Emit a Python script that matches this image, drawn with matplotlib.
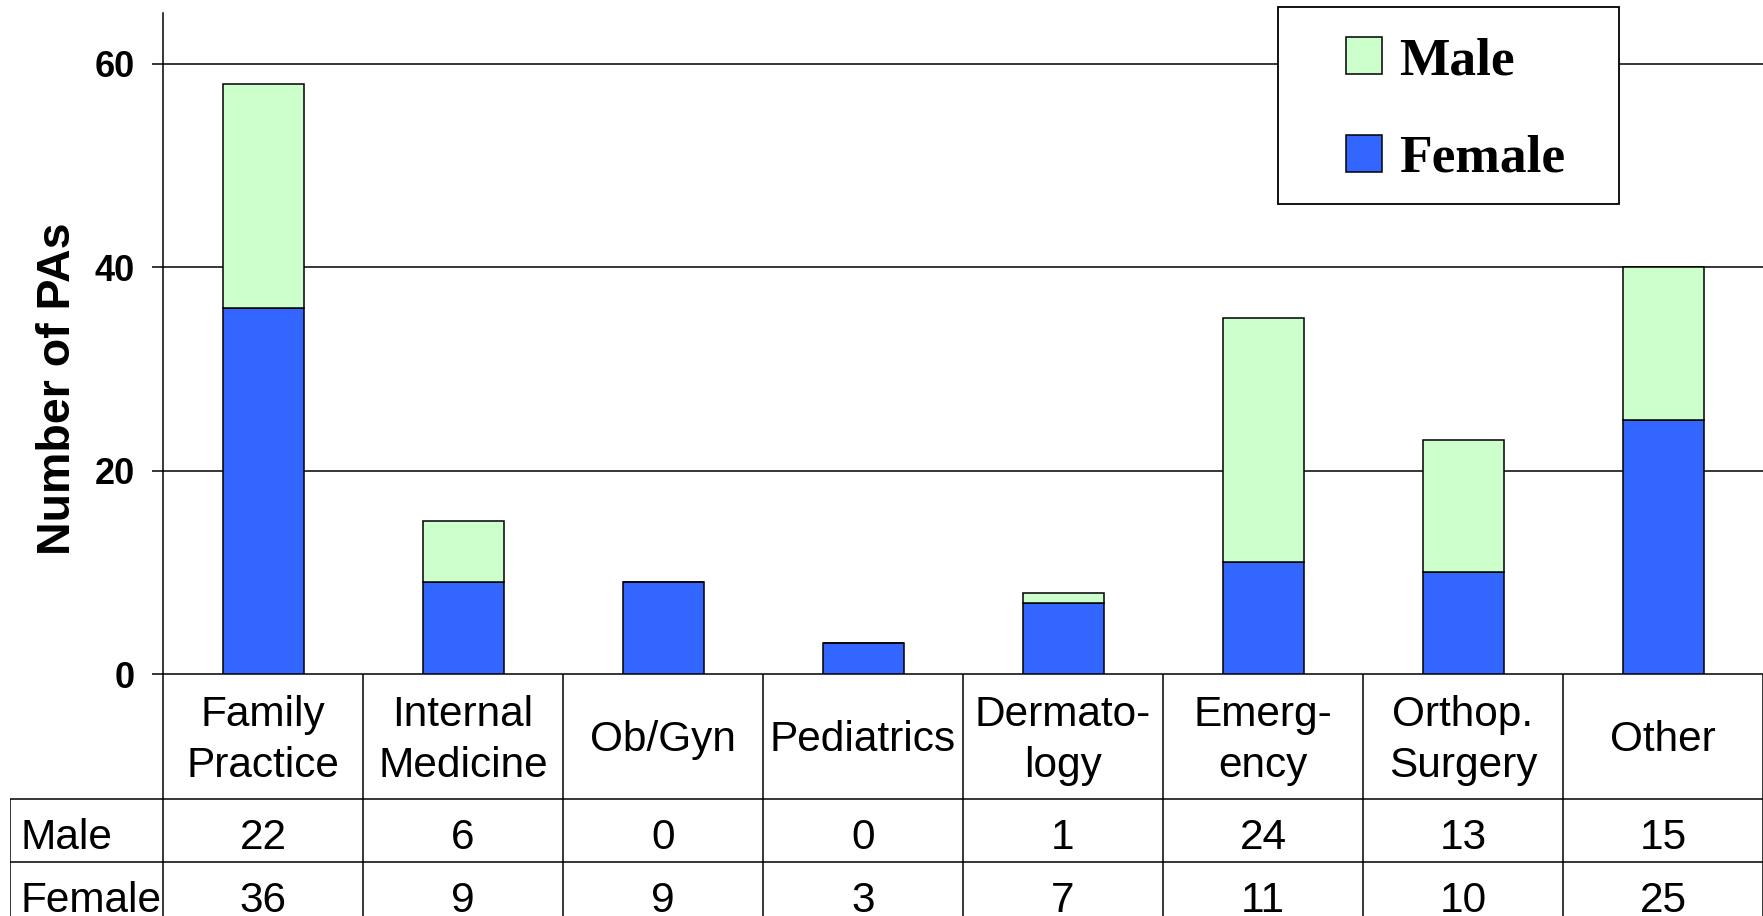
import matplotlib.pyplot as plt
from matplotlib.patches import Rectangle, Patch

categories = ['Family\nPractice', 'Internal\nMedicine', 'Ob/Gyn', 'Pediatrics',
              'Dermato-\nlogy', 'Emerg-\nency', 'Orthop.\nSurgery', 'Other']
male = [22, 6, 0, 0, 1, 24, 13, 15]
female = [36, 9, 9, 3, 7, 11, 10, 25]
row_labels = ['Male', 'Female']
yticks = [0, 20, 40, 60]

male_color = '#CCFFCC'
female_color = '#3366FF'

W, H = 1763, 916
fig = plt.figure(figsize=(W / 100, H / 100), dpi=100)

# main axes, positions in pixels
left, right, top, base = 163, 1763, 13, 674
ax = fig.add_axes([left / W, (H - base) / H, (right - left) / W, (base - top) / H])
x = list(range(len(categories)))
ax.bar(x, female, width=0.405, color=female_color, edgecolor='black', linewidth=1.1, zorder=3)
ax.bar(x, male, width=0.405, bottom=female, color=male_color, edgecolor='black',
       linewidth=1.1, zorder=3)
ax.set_xlim(-0.5, len(categories) - 0.5)
ax.set_ylim(0, 65)
ax.set_yticks(yticks)
ax.set_yticklabels([str(t) for t in yticks], fontsize=26, fontweight='bold',
                   family='Liberation Sans')
ax.tick_params(axis='y', length=8, width=1.1, pad=12)
ax.set_xticks([])
for t in yticks[1:]:
    ax.axhline(t, color='black', linewidth=1.1, zorder=1)
for s in ['top', 'right']:
    ax.spines[s].set_visible(False)
ax.spines['left'].set_linewidth(1.1)
ax.spines['bottom'].set_linewidth(1.1)

fig.text(58 / W, 1 - 389 / H, 'Number of PAs', rotation=90, ha='center', va='center',
         fontsize=33.5, fontweight='bold', family='Liberation Sans')

# data table below the axes
tl, tb_bottom = 10, 924
lab_w = (left - tl) / 200.0
tax = fig.add_axes([tl / W, (H - tb_bottom) / H, (right - tl) / W, (tb_bottom - base) / H])
tax.set_xlim(-0.5 - lab_w, len(categories) - 0.5)
tax.set_ylim(4, 0)
tax.axis('off')
lw = 1.1
n = len(categories)
tax.hlines([2, 3, 4], -0.5 - lab_w, n - 0.5, color='black', linewidth=lw)
tax.vlines([k - 0.5 for k in range(n + 1)], 0, 4, color='black', linewidth=lw)
tax.vlines(-0.5 - lab_w, 2, 4, color='black', linewidth=lw)
for i, c in enumerate(categories):
    tax.text(i, 1.06, c, ha='center', va='center', fontsize=30.5, linespacing=1.36,
             family='Liberation Sans')
for r, vals in enumerate([male, female]):
    yc = 2.63 + r
    tax.text(-0.5 - lab_w + 0.05, yc, row_labels[r], ha='left', va='center', fontsize=30.5,
             family='Liberation Sans')
    for i, v in enumerate(vals):
        tax.text(i, yc, str(v), ha='center', va='center', fontsize=30.5,
                 family='Liberation Sans')

# legend with a square box drawn separately
box = Rectangle((1278 / W, 1 - 204 / H), (1619 - 1278) / W, (204 - 7) / H,
                transform=fig.transFigure, facecolor='white', edgecolor='black',
                linewidth=1.3, zorder=2)
fig.patches.append(box)
handles = [Patch(facecolor=male_color, edgecolor='black', linewidth=1.1, label='Male'),
           Patch(facecolor=female_color, edgecolor='black', linewidth=1.1, label='Female')]
fig.legend(handles=handles, loc='upper left', bbox_to_anchor=(1346 / W, 1 - 37 / H),
           frameon=False, handlelength=0.68, handleheight=0.68, handletextpad=0.32,
           labelspacing=0.93, borderpad=0, borderaxespad=0,
           prop={'family': 'Liberation Serif', 'weight': 'bold', 'size': 38.5})

fig.savefig('out.png', dpi=100)
